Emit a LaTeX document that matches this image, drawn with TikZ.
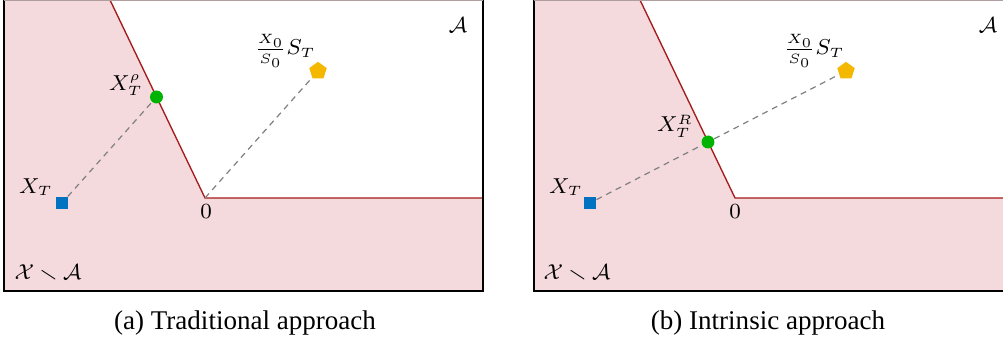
\documentclass[tikz,border=0pt]{standalone}
\usepackage{amssymb}
\usepackage{fontspec}
\setmainfont{Liberation Serif}
\usetikzlibrary{shapes.geometric}
\definecolor{setpink}{HTML}{F5DADD}
\definecolor{setred}{HTML}{A51C1C}
\definecolor{ptblue}{HTML}{0072C1}
\definecolor{ptgreen}{HTML}{00B300}
\definecolor{ptgold}{HTML}{F5B800}
\tikzset{
  frm/.style={draw=black, line width=0.55pt},
  topl/.style={draw=setred!35!black!40, line width=0.55pt},
  bnd/.style={draw=setred, line width=0.5pt},
  reg/.style={fill=setpink},
  xt/.style={rectangle, fill=ptblue, minimum size=4.4pt, inner sep=0pt},
  xr/.style={circle, fill=ptgreen, minimum size=4.8pt, inner sep=0pt},
  st/.style={regular polygon, regular polygon sides=5, fill=ptgold,
    minimum size=6.8pt, inner sep=0pt},
  lnk/.style={draw=black!50, dash pattern=on 2.2pt off 1.8pt, line width=0.45pt},
  mlab/.style={font=\fontsize{7.8}{9}\selectfont, inner sep=0.5pt},
  subcap/.style={font=\normalsize, inner sep=1pt},
}

\begin{document}
\begin{tikzpicture}[x=0.37pt, y=0.37pt]
  \useasboundingbox (0,0) rectangle (1003,343);

  % (a) traditional
  \fill[reg] (4,52) -- (4,343) -- (110,343) -- (205,145) -- (483,145) -- (483,52) -- cycle;
  \draw[bnd] (110,343) -- (205,145) -- (483,145);
  \draw[frm] (4,343) -- (4,52) -- (483,52) -- (483,343);
  \draw[topl] (4,343) -- (483,343);
  \coordinate (o1) at (205,145);
  \node[xt] (x1) at (62,140) {};
  \node[xr] (r1) at (156.5,246) {};
  \node[st] (s1) at (318,272) {};
  \draw[lnk] (x1) -- (r1);
  \draw[lnk] (o1) -- (s1);
  \node[mlab] (lx1) at (36,156) {$X_T$};
  \node[mlab] (lr1) at (126,258) {$X_T^{\rho}$};
  \node[mlab] (ls1) at (285,292) {$\frac{X_0}{S_0}S_T$};
  \node[mlab] (la1) at (458,318) {$\mathcal{A}$};
  \node[mlab] (lo1) at (206,131) {$0$};
  \node[mlab] (lc1) at (48,70) {$\mathcal{X}\smallsetminus\mathcal{A}$};
  \node[subcap] (cap1) at (245,20) {(a) Traditional approach};

  % (b) intrinsic
  \fill[reg] (534,52) -- (534,343) -- (640,343) -- (735,145) -- (1013,145) -- (1013,52) -- cycle;
  \draw[bnd] (640,343) -- (735,145) -- (1013,145);
  \draw[frm] (534,343) -- (534,52) -- (1013,52) -- (1013,343);
  \draw[topl] (534,343) -- (1013,343);
  \node[xt] (x2) at (590,140) {};
  \node[xr] (r2) at (708,201) {};
  \node[st] (s2) at (846,272) {};
  \draw[lnk] (x2) -- (r2) -- (s2);
  \node[mlab] (lx2) at (566,156) {$X_T$};
  \node[mlab] (lr2) at (675,217) {$X_T^{R}$};
  \node[mlab] (ls2) at (814,292) {$\frac{X_0}{S_0}S_T$};
  \node[mlab] (la2) at (988,318) {$\mathcal{A}$};
  \node[mlab] (lo2) at (735,131) {$0$};
  \node[mlab] (lc2) at (577,70) {$\mathcal{X}\smallsetminus\mathcal{A}$};
  \node[subcap] (cap2) at (768,20) {(b) Intrinsic approach};
\end{tikzpicture}
\end{document}
